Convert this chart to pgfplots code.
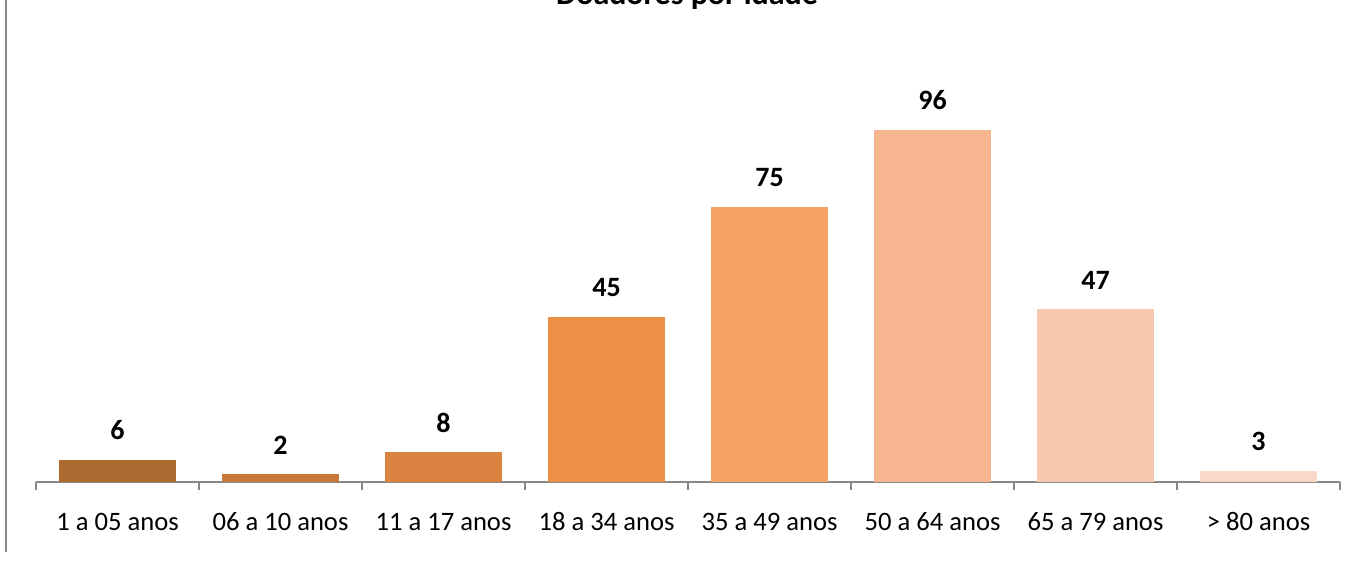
\documentclass[border=0pt]{standalone}
\usepackage{pgfplots}
\pgfplotsset{compat=1.18}
\usepackage{fontspec}
\setmainfont{Carlito}

\definecolor{axgrey}{HTML}{888888}
\definecolor{c1}{HTML}{AD6A30}
\definecolor{c2}{HTML}{C8783A}
\definecolor{c3}{HTML}{DB8340}
\definecolor{c4}{HTML}{EC9046}
\definecolor{c5}{HTML}{F7A265}
\definecolor{c6}{HTML}{F8B690}
\definecolor{c7}{HTML}{F8C8AE}
\definecolor{c8}{HTML}{F9D8C8}

\begin{document}
\begin{tikzpicture}
% page = 1358 x 562 px, 1 px = 0.5pt
\useasboundingbox (0,0) rectangle (679pt,281pt);
\draw[axgrey, line width=1pt] (3pt,281pt) -- (3pt,5pt);
\node[anchor=base, inner sep=0pt, font=\fontsize{16}{19}\selectfont\bfseries] at (343.5pt,278.5pt) {Doadores por idade};

\begin{axis}[
  at={(18pt,40.25pt)}, anchor=south west,
  scale only axis,
  width=652pt, height=201.4pt,
  xmin=-0.5, xmax=7.5, ymin=0, ymax=110,
  axis x line*=bottom,
  hide y axis,
  axis line style={axgrey, line width=1pt},
  xtick={0,...,7},
  xticklabels={1 a 05 anos, 06 a 10 anos, 11 a 17 anos, 18 a 34 anos, 35 a 49 anos, 50 a 64 anos, 65 a 79 anos, > 80 anos},
  major tick length=0pt,
  minor xtick={-0.5,0.5,...,7.5},
  minor tick length=4pt,
  tick align=outside,
  minor tick style={axgrey, line width=1pt},
  x tick label style={anchor=base, yshift=-24.5pt, font=\fontsize{13.3}{16}\selectfont},
  /pgf/number format/assume math mode=true,
  ybar, bar width=58.5pt, bar shift=0pt,
  nodes near coords,
  every node near coord/.append style={anchor=base, inner sep=0pt, yshift=10pt, font=\fontsize{14}{17}\selectfont\bfseries, black},
  clip=false,
]
\addplot[draw=none, fill=c1] coordinates {(0,6)};
\addplot[draw=none, fill=c2] coordinates {(1,2)};
\addplot[draw=none, fill=c3] coordinates {(2,8)};
\addplot[draw=none, fill=c4] coordinates {(3,45)};
\addplot[draw=none, fill=c5] coordinates {(4,75)};
\addplot[draw=none, fill=c6] coordinates {(5,96)};
\addplot[draw=none, fill=c7] coordinates {(6,47)};
\addplot[draw=none, fill=c8] coordinates {(7,3)};
\end{axis}
\end{tikzpicture}
\end{document}
